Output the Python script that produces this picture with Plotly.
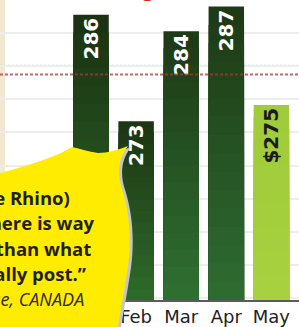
import plotly.graph_objects as go

# ---------------- data ----------------
months = ["Jan", "Feb", "Mar", "Apr", "May"]
values = [286, 273, 284, 287, 275]
value_labels = ["286", "273", "284", "287", "$275"]
average_value = 278.7          # red dotted reference line
previous_level = 279.8         # faint teal dotted line

quote_lines = ["(The Rhino)", "There is way", "more than what", "they actually post.”"]
quote_source = "—Jesse, CANADA"
top_text = "(average),"

# ---------------- geometry / style ----------------
W, H = 299, 327
ML, MR, MT, MB = 0, 0, 0, 25
PW, PH = W - ML - MR, H - MT - MB

Y_MIN, Y_MAX = 251.2, 287.8
X_MIN, X_MAX = -2.018, 4.612
BAR_W = 0.787

top_colors = ["#1b3312", "#1c3713", "#1e3a16", "#1e3a16", "#a0cb3a"]
bottom_colors = ["#2d6829", "#2d6a2a", "#2e6e30", "#2d6b31", "#a7d13f"]
label_colors = ["white", "white", "white", "white", "#1a1a1a"]


def hex2rgb(h):
    h = h.lstrip("#")
    return [int(h[i:i + 2], 16) for i in (0, 2, 4)]


def mix(c1, c2, t):
    a, b = hex2rgb(c1), hex2rgb(c2)
    return "#" + "".join(f"{round(a[i] + (b[i] - a[i]) * t):02x}" for i in range(3))


fig = go.Figure()

# gradient bars: full bar dark, then progressively shorter lighter overlays
N = 16
for k in range(N):
    frac = 1 - k / N
    t = k / (N - 1)
    fig.add_trace(go.Bar(
        x=months,
        y=[(v - Y_MIN) * frac for v in values],
        base=[Y_MIN] * len(values),
        width=BAR_W,
        marker=dict(color=[mix(tc, bc, t) for tc, bc in zip(top_colors, bottom_colors)],
                    line=dict(width=0)),
        hoverinfo="skip",
    ))

# value labels
fig.add_trace(go.Bar(
    x=months,
    y=[v - Y_MIN for v in values],
    base=[Y_MIN] * len(values),
    width=BAR_W,
    marker=dict(color="rgba(0,0,0,0)", line=dict(width=0)),
    text=value_labels,
    textposition="inside",
    insidetextanchor="end",
    textangle=-90,
    constraintext="none",
    textfont=dict(family="DejaVu Sans", size=20, color=label_colors, weight="bold"),
    hoverinfo="skip",
))


def P(x, y):
    return f"{x / PW:.4f},{(PH - y) / PH:.4f}"


def bubble(dx=0, dy=0):
    pts = [(-10, 177), (20, 169), (55, 159), (72, 148), (80, 150), (88, 153), (98, 154),
           (108, 154), (118, 151), (128, 147), (118, 160), (117, 175), (122, 190),
           (130, 215), (132, 245), (127, 275), (124, 295), (120, 315), (117, 335)]
    q = [P(x + dx, y + dy) for x, y in pts]
    s = f"M {q[0]}"
    for i in range(1, len(q), 3):
        s += f" C {q[i]} {q[i+1]} {q[i+2]}"
    s += f" L {P(-10, 335)} Z"
    return s


shapes = [
    # beige strip at left edge
    dict(type="rect", xref="paper", yref="paper", x0=0, x1=5 / PW, y0=0, y1=1,
         fillcolor="#f1e8d2", line=dict(width=0), layer="below"),
    # teal faint dotted line
    dict(type="line", xref="paper", yref="y", x0=0, x1=1, y0=previous_level, y1=previous_level,
         line=dict(color="#9cd3c4", width=1.5, dash="2px,2px"), opacity=0.7, layer="below"),
    # red dotted average line
    dict(type="line", xref="paper", yref="y", x0=0, x1=1, y0=average_value, y1=average_value,
         line=dict(color="#b03434", width=2, dash="3px,2px"), opacity=0.75, layer="above"),
    # bubble shadow and bubble
    dict(type="path", xref="paper", yref="paper", path=bubble(3, 1),
         fillcolor="#c6c6c6", line=dict(width=0), layer="above"),
    dict(type="path", xref="paper", yref="paper", path=bubble(),
         fillcolor="#ffec00", line=dict(width=0), layer="above"),
]

annotations = []
rights = [72, 97, 93, 89]
centers = [199, 224, 250, 275]
for txt, r, c in zip(quote_lines, rights, centers):
    annotations.append(dict(
        text=txt, xref="paper", yref="paper", x=r / PW, y=(PH - c) / PH,
        xanchor="right", yanchor="middle", showarrow=False,
        font=dict(family="Open Sans", size=18.5, color="#231f20", weight="bold"),
    ))
annotations.append(dict(
    text=f"<i>{quote_source}</i>", xref="paper", yref="paper", x=86 / PW, y=(PH - 301) / PH,
    xanchor="right", yanchor="middle", showarrow=False,
    font=dict(family="Open Sans", size=18, color="#2b2b2b"),
))
annotations.append(dict(
    text=top_text, xref="paper", yref="paper", x=180 / PW, y=(PH - 4.5) / PH,
    xanchor="right", yanchor="bottom", showarrow=False,
    font=dict(family="Open Sans", size=20, color="#e3231b", weight="bold"),
))

fig.update_layout(
    width=W, height=H,
    margin=dict(l=ML, r=MR, t=MT, b=MB, pad=0),
    paper_bgcolor="white", plot_bgcolor="white",
    barmode="overlay", showlegend=False,
    xaxis=dict(type="category", categoryorder="array", categoryarray=months,
               range=[X_MIN, X_MAX], showgrid=False, showline=True,
               linecolor="#5a5a5a", linewidth=1.5, ticks="", zeroline=False,
               tickfont=dict(family="DejaVu Sans", size=18, color="#222222"),
               fixedrange=True),
    yaxis=dict(range=[Y_MIN, Y_MAX], showticklabels=False, showgrid=True,
               gridcolor="#ebeeeb", gridwidth=1.5, tick0=255.45, dtick=4.05,
               zeroline=False, showline=False, ticks="", fixedrange=True),
    shapes=shapes,
    annotations=annotations,
)

fig.write_html("out.html", config={"displayModeBar": False},
               post_script="document.body.style.margin='0';document.body.style.padding='0';")
